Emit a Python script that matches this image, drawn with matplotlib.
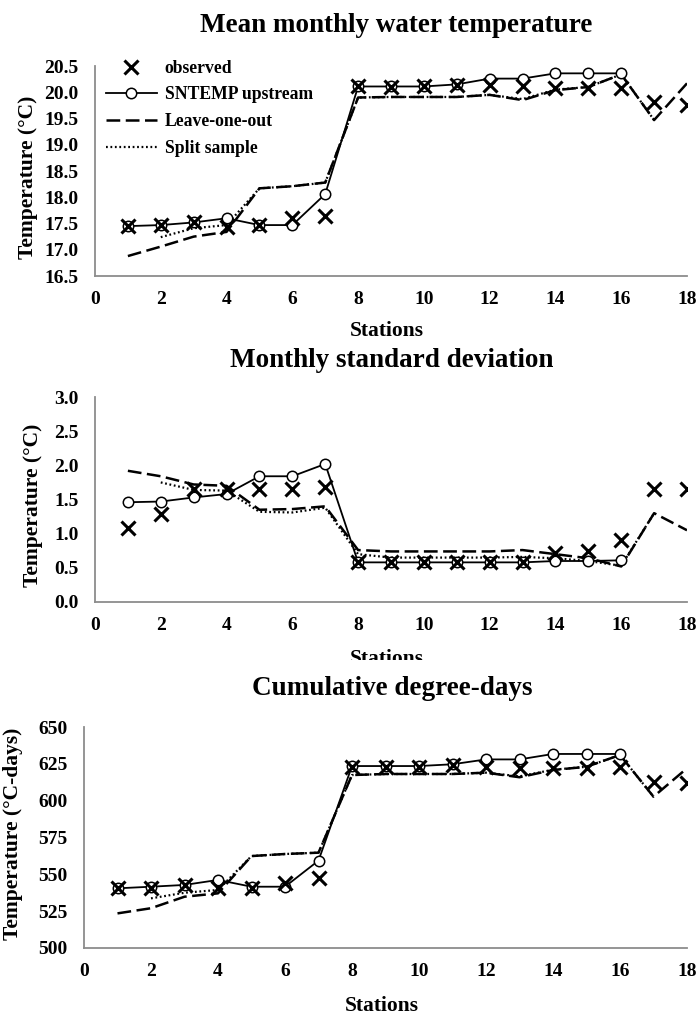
import matplotlib
matplotlib.use('Agg')
import matplotlib.pyplot as plt
from matplotlib.transforms import Bbox

plt.rcParams['font.family'] = 'Liberation Serif'
plt.rcParams['font.weight'] = 'bold'

# estaciones
stations = list(range(1, 19))
st_sntemp = list(range(1, 17))
st_leave = list(range(1, 19))
st_split = list(range(2, 18))

# temperatura media mensual
obs_mean = [17.45, 17.47, 17.52, 17.44, 17.47, 17.60, 17.65, 20.11, 20.10, 20.11,
            20.14, 20.14, 20.11, 20.08, 20.09, 20.08, 19.82, 19.76]
sntemp_mean = [17.45, 17.47, 17.52, 17.60, 17.47, 17.47, 18.06, 20.11, 20.11, 20.11,
               20.15, 20.26, 20.26, 20.36, 20.36, 20.36]
leave_mean = [16.88, 17.06, 17.25, 17.34, 18.17, 18.21, 18.28, 19.90, 19.91, 19.91,
              19.91, 19.95, 19.85, 20.04, 20.10, 20.34, 19.47, 20.17]
split_mean = [17.24, 17.41, 17.47, 18.17, 18.21, 18.28, 19.90, 19.91, 19.91,
              19.91, 19.95, 19.87, 20.05, 20.10, 20.34, 19.47]

# desviación estándar mensual
obs_sd = [1.08, 1.29, 1.65, 1.65, 1.65, 1.65, 1.69, 0.58, 0.58, 0.58,
          0.58, 0.58, 0.58, 0.71, 0.74, 0.91, 1.66, 1.66]
sntemp_sd = [1.46, 1.47, 1.53, 1.58, 1.84, 1.84, 2.02, 0.58, 0.58, 0.58,
             0.58, 0.58, 0.58, 0.60, 0.60, 0.61]
leave_sd = [1.92, 1.84, 1.72, 1.70, 1.35, 1.36, 1.40, 0.76, 0.74, 0.74,
            0.74, 0.74, 0.76, 0.70, 0.64, 0.52, 1.30, 1.05]
split_sd = [1.75, 1.64, 1.63, 1.32, 1.31, 1.38, 0.70, 0.65, 0.65,
            0.65, 0.65, 0.66, 0.64, 0.60, 0.53, 1.30]

# grados-día acumulados
obs_dd = [540.5, 541, 542.8, 540.5, 541, 544, 547.3, 623, 623, 623,
          624.2, 623, 622, 622, 622, 623, 612.9, 611.8]
sntemp_dd = [540.5, 541.6, 542.8, 546.2, 541.6, 541.6, 559.3, 623.5, 623.5, 623.5,
             624.7, 628, 628, 631.7, 631.7, 631.7]
leave_dd = [523.5, 527, 534.8, 537.1, 562.4, 563.8, 564.7, 617.4, 618.1, 618.1,
            618.1, 619, 615.9, 620.8, 623, 631, 602.7, 622]
split_dd = [533.7, 537.5, 539.4, 562.4, 563.8, 564.7, 617.4, 618.1, 618.1,
            618.1, 619, 616.5, 621, 623, 631, 602.7]

W, H = 700, 1014
fig = plt.figure(figsize=(W / 100, H / 100), dpi=100)


def px_axes(left, right, top, bottom):
    return fig.add_axes([left / W, 1 - bottom / H, (right - left) / W, (bottom - top) / H])


def draw_panel(ax, obs, snt, lea, spl, ylim, yticks, yfmt):
    ax.plot(st_sntemp, snt, color='black', lw=1.3, marker='o', ms=7.5,
            mfc='white', mec='black', mew=1.1, label='SNTEMP upstream', zorder=3)
    ax.plot(st_leave, lea, color='black', lw=1.8, linestyle=(0, (5.5, 2.2)),
            label='Leave-one-out', zorder=2)
    ax.plot(st_split, spl, color='black', lw=1.6, linestyle=(0, (0.8, 1.2)),
            label='Split sample', zorder=2)
    ax.plot(stations, obs, linestyle='none', marker='x', ms=10, mew=2.2,
            color='black', label='observed', zorder=4)
    ax.set_xlim(0, 18)
    ax.set_ylim(*ylim)
    ax.set_xticks(range(0, 19, 2))
    ax.set_yticks(yticks)
    ax.set_yticklabels([yfmt.format(v) for v in yticks])
    for s in ['top', 'right']:
        ax.spines[s].set_visible(False)
    for s in ['left', 'bottom']:
        ax.spines[s].set_color('#8c8c8c')
        ax.spines[s].set_linewidth(1.3)
    ax.tick_params(length=0, labelsize=14)
    ax.tick_params(axis='x', pad=11)
    ax.tick_params(axis='y', pad=12)
    ax.set_facecolor('none')


ax1 = px_axes(95, 687, 66, 276)
draw_panel(ax1, obs_mean, sntemp_mean, leave_mean, split_mean,
           (16.5, 20.5), [16.5 + 0.5 * i for i in range(9)], '{:.1f}')
handles, labels = ax1.get_legend_handles_labels()
order = [3, 0, 1, 2]
ax1.legend([handles[i] for i in order], [labels[i] for i in order],
           loc='upper left', bbox_to_anchor=(0.0, 1.08), frameon=False,
           fontsize=12.7, handlelength=2.9, handletextpad=0.45,
           labelspacing=0.55, borderaxespad=0.2)

ax2 = px_axes(95, 687, 397, 602)
draw_panel(ax2, obs_sd, sntemp_sd, leave_sd, split_sd,
           (0, 3), [0.5 * i for i in range(7)], '{:.1f}')

ax3 = px_axes(84, 687, 727, 948)
draw_panel(ax3, obs_dd, sntemp_dd, leave_dd, split_dd,
           (500, 650), list(range(500, 651, 25)), '{:d}')

# títulos y etiquetas
fig.text(396 / W, 1 - 32 / H, 'Mean monthly water temperature', ha='center',
         va='baseline', fontsize=19.5)
fig.text(392 / W, 1 - 367 / H, 'Monthly standard deviation', ha='center',
         va='baseline', fontsize=19.5)
fig.text(392 / W, 1 - 695 / H, 'Cumulative degree-days', ha='center',
         va='baseline', fontsize=19.5)

fig.text(387 / W, 1 - 336 / H, 'Stations', ha='center', va='baseline', fontsize=15.5)
t2 = fig.text(387 / W, 1 - 664 / H, 'Stations', ha='center', va='baseline', fontsize=15.5)
# en el original la etiqueta queda recortada por abajo
t2.set_clip_box(Bbox.from_extents(0, H - 660, W, H))
t2.set_clip_on(True)
fig.text(382 / W, 1 - 1011 / H, 'Stations', ha='center', va='baseline', fontsize=15.5)

fig.text(28 / W, 1 - 177 / H, 'Temperature (°C)', rotation=90, ha='center',
         va='center', fontsize=15.5)
fig.text(33 / W, 1 - 505 / H, 'Temperature (°C)', rotation=90, ha='center',
         va='center', fontsize=15.5)
fig.text(13 / W, 1 - 834 / H, 'Temperature (°C-days)', rotation=90, ha='center',
         va='center', fontsize=15.5)

fig.savefig('out.png', dpi=100, facecolor='white')
